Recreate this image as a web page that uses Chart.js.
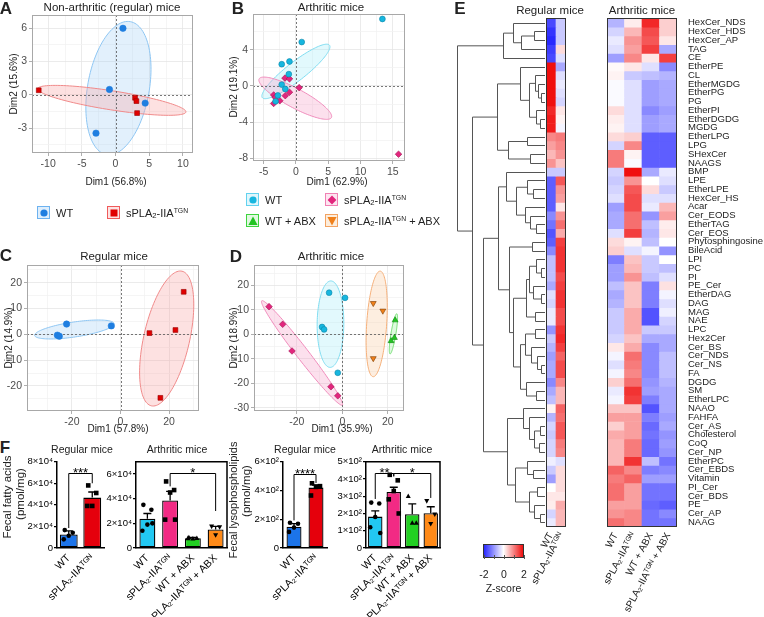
<!DOCTYPE html>
<html><head><meta charset="utf-8">
<script src="https://cdn.jsdelivr.net/npm/chart.js@4/dist/chart.umd.min.js"></script>
<style>
html,body{margin:0;padding:0;background:#fff;}
body{width:764px;height:617px;position:relative;overflow:hidden;font-family:"Liberation Sans","DejaVu Sans",Arial,sans-serif;color:#222;}
canvas{position:absolute;}
.t{position:absolute;white-space:nowrap;line-height:1;}
sup{font-size:0.62em;vertical-align:0.5em;line-height:0;}
sub{font-size:0.7em;vertical-align:-0.25em;line-height:0;}
.lb{position:absolute;width:11px;height:11px;border:1.5px solid;}
.lb svg{position:absolute;left:-1px;top:-1px;}
</style></head><body>
<script>
// ---------------- DATA ----------------
// Panel A (non-arthritic regular mice PCA)
const aWtX=[1.1,-0.9,4.4,-2.9], aWtY=[6.0,0.48,-0.75,-3.46];
const aTgX=[-11.4,2.9,3.1,3.2], aTgY=[0.41,-0.27,-0.57,-1.65];
const aXRange=[-12.4,11.5], aYRange=[-5.25,7.2];
const aXTicks=[-10,-5,0,5,10], aYTicks=[-3,0,3,6];
const aEllWt={c:[0.43,0.6],a:[1.77,6.0],b:[4.5,-0.5]};
const aEllTg={c:[-0.55,-0.5],a:[11.0,-1.05],b:[0.22,0.85]};
// Panel B (arthritic mice PCA)
const bWtX=[13.4,0.9,-2.2,-1.0,-1.1,-2.2,-1.65,-2.8,-3.15];
const bWtY=[7.4,4.85,2.4,2.7,1.3,0.15,-0.34,-1.05,-1.7];
const bTgX=[15.9,-1.7,-1.0,0.5,-1.0,-1.65,-3.45,-3.2,-2.5,-3.45];
const bTgY=[-7.55,0.86,0.78,-0.19,-0.7,-1.08,-1.0,-1.27,-1.64,-1.94];
const bXRange=[-6.65,16.9], bYRange=[-8.3,7.95];
const bXTicks=[-5,0,5,10,15], bYTicks=[-8,-4,0,4];
const bEllWt={c:[0,1.6],a:[5.2,2.9],b:[0.88,-0.82]};
const bEllTg={c:[-0.1,-1.36],a:[5.6,-2.14],b:[-0.69,-0.94]};
// Panel C (regular mice PCA)
const cWtX=[-22.2,-3.8,-26.0,-25.2], cWtY=[4.0,3.3,-0.3,-0.7];
const cTgX=[26.0,22.6,11.9,16.4], cTgY=[16.5,1.7,0.5,-24.6];
const cXRange=[-38.5,32.3], cYRange=[-29.7,26.9];
const cXTicks=[-20,0,20], cYTicks=[-20,-10,0,10,20];
const cEllWt={c:[-19.0,1.9],a:[16.35,2.3],b:[0.45,-2.87]};
const cEllTg={c:[19.0,-1.6],a:[6.3,26.1],b:[9.2,-1.98]};
// Panel D (arthritic mice PCA)
const dWtX=[-5.8,1.2,-8.9,-8.0,-2.0], dWtY=[17.0,14.9,3.0,2.0,-15.7];
const dTgX=[-32.2,-26.2,-22.1,-5.0,-2.0], dTgY=[11.3,4.1,-6.8,-21.4,-25.1];
const dWtAbxX=[23.2,22.9,21.4], dWtAbxY=[5.8,-1.4,-2.7];
const dTgAbxX=[13.6,17.8,13.6], dTgAbxY=[12.7,9.6,-9.8];
const dXRange=[-38.8,27.1], dYRange=[-31.3,28.3];
const dXTicks=[-20,0,20], dYTicks=[-30,-20,-10,0,10,20];
const dEllWt={c:[-5.2,4.15],a:[0.15,17.65],b:[5.86,0]};
const dEllTg={c:[-17.7,-7.6],a:[17.7,-21.3],b:[2.09,1.5]};
const dEllTgAbx={c:[15.1,4.25],a:[1.5,21.55],b:[4.4,0]};
const dEllWtAbx={c:[22.45,0.2],a:[1.45,8.2],b:[1.1,0]};
// Panel F
const fRegLabels=['WT','sPLA₂-IIAᵀᴳᴺ'];
const fArtLabels=['WT','sPLA₂-IIAᵀᴳᴺ','WT + ABX','sPLA₂-IIAᵀᴳᴺ + ABX'];
const f1Means=[12500,46700], f1Sem=[3400,5200];
const f1Pts=[[16600,14100,11300,8000],[58000,51000,39000,39000]];
const f1YTicks=[0,20000,40000,60000,80000], f1YLabels=['0','2×10⁴','4×10⁴','6×10⁴','8×10⁴'];
const f1Brackets=[{a:0,b:1,y:69400,ya:18500,yb:60000,t:'***'}];
const f2Means=[23800,38600,8000,15000], f2Sem=[4200,7400,500,2500];
const f2Pts=[[35000,31000,19000,14000,20000],[54000,47000,45000,23000,23000],[8500,8000,7500,7800],[17500,17000,10500]];
const f2YTicks=[0,20000,40000,60000], f2YLabels=['0','2×10⁴','4×10⁴','6×10⁴'], f2Max=70000;
const f2Brackets=[{a:1,b:3,y:60500,ya:50000,yb:30000,t:'*'}];
const f3Means=[148,420], f3Sem=[21,18];
const f3Pts=[[176,169,142,112],[450,430,425,365]];
const f3YTicks=[0,200,400,600], f3YLabels=['0','2×10²','4×10²','6×10²'];
const f3Brackets=[{a:0,b:1,y:516,ya:192,yb:452,t:'****'}];
const f4Means=[182,325,196,202], f4Sem=[33,27,60,37];
const f4Pts=[[263,258,180,120,87],[424,392,330,282,200],[300,145,145],[273,195,140]];
const f4YTicks=[0,100,200,300,400,500], f4YLabels=['0','1×10²','2×10²','3×10²','4×10²','5×10²'];
const f4Brackets=[{a:0,b:1,y:433,ya:284,yb:415,t:'**'},{a:1,b:3,y:433,ya:415,yb:290,t:'*'}];
// Panel E heatmap (z-scores)
const rowNames=['HexCer_NDS','HexCer_HDS','HexCer_AP','TAG','CE','EtherPE','CL','EtherMGDG','EtherPG','PG','EtherPI','EtherDGDG','MGDG','EtherLPG','LPG','SHexCer','NAAGS','BMP','LPE','EtherLPE','HexCer_HS','Acar','Cer_EODS','EtherTAG','Cer_EOS','Phytosphingosine','BileAcid','LPI','PC','PI','PE_Cer','EtherDAG','DAG','MAG','NAE','LPC','Hex2Cer','Cer_BS','Cer_NDS','Cer_NS','FA','DGDG','SM','EtherLPC','NAAO','FAHFA','Cer_AS','Cholesterol','CoQ','Cer_NP','EtherPC','Cer_EBDS','Vitamin','PI_Cer','Cer_BDS','PE','Cer_AP','NAAG'];
const regWT=[-1.7,-1.9,-2.0,-1.8,-1.7,2.0,2.0,2.0,2.0,2.0,1.8,1.9,1.9,1.0,0.8,0.6,0.9,-0.5,-1.5,-1.5,-1.5,-1.5,-1.1,-1.3,-1.6,-1.5,-1.1,-0.6,-0.6,-0.6,-0.8,-0.3,-0.4,-0.2,-0.2,-1.0,-0.5,-0.7,-0.9,-0.8,-0.8,-1.1,-0.8,-0.6,0.1,-0.7,-0.4,-0.5,-0.4,-0.4,-0.15,-0.5,-0.9,0.0,0.2,0.15,-0.4,-0.2];
const regTG=[-0.5,-0.5,-0.5,0.3,-0.3,-0.8,-0.3,-0.2,-0.3,-0.4,0.2,0.1,-0.1,1.1,1.0,0.9,0.5,-0.5,1.4,0.9,0.8,0.2,0.9,1.2,0.7,1.6,1.7,1.7,1.7,1.5,1.6,1.7,1.7,1.5,1.5,1.7,1.8,1.6,1.3,1.5,1.5,1.0,0.6,0.6,1.3,1.2,1.4,1.4,1.1,1.0,-0.3,0.3,0.3,0.3,0.2,0.7,0.6,0.6];
const artWT=[-0.7,-0.4,-0.2,-0.3,-0.9,0.05,0.1,-0.05,-0.05,-0.05,0.3,0.15,0.1,0.3,-0.4,1.1,1.1,-0.4,-0.5,-0.4,-0.3,-0.9,-0.8,-0.8,-0.3,0.3,0.4,-1.2,-0.9,-0.9,-0.6,-0.8,-0.7,-0.5,-0.5,-0.5,-0.4,0.2,-0.1,-0.3,-0.1,0.4,-0.2,-0.1,0.5,0.8,0.4,0.7,0.6,0.6,0.6,1.3,1.1,1.2,1.2,0.8,0.9,1.2];
const artTG=[0.15,0.6,0.9,0.8,1.0,0.2,-0.5,-0.3,-0.3,-0.3,-0.3,-0.3,-0.3,0.4,1.0,0.1,-0.05,2.0,0.9,1.4,1.5,1.5,1.2,1.2,1.6,0.1,-0.3,0.5,0.6,0.9,0.5,0.5,0.5,0.7,0.7,0.7,0.5,0.7,1.2,1.1,1.0,1.2,1.7,1.6,0.5,0.8,0.8,0.8,1.1,1.1,1.7,1.0,1.3,0.8,0.8,0.8,1.0,1.0];
const artWtAbx=[1.8,1.5,1.4,1.6,0.2,-0.3,-0.6,-0.9,-0.9,-0.9,-1.1,-0.9,-0.9,-1.5,-1.5,-1.5,-1.5,-0.8,0.0,0.3,-0.3,-0.2,-1.0,-0.6,-0.7,-0.6,-0.1,-0.5,-0.5,-0.6,-1.2,-1.2,-1.2,-1.6,-1.6,-0.5,-0.8,-1.1,-1.1,-1.1,-1.1,-1.0,-0.9,-1.2,-1.6,-1.2,-1.4,-1.3,-1.4,-1.4,-0.6,-1.2,-0.9,-1.3,-1.3,-1.4,-1.3,-1.3];
const artTgAbx=[0.4,0.4,0.2,-0.8,1.6,-1.1,-0.7,-0.8,-0.8,-0.8,-0.9,-0.8,-0.8,-1.5,-1.5,-1.5,-1.5,-0.2,-0.3,-0.5,-0.3,0.6,0.8,0.15,0.2,0.0,-1.0,0.0,-0.6,-0.3,0.25,-0.1,-0.3,-0.15,-0.4,-0.5,-0.8,-0.8,-0.6,-0.6,-0.6,-0.7,-0.8,-0.8,-0.8,-0.9,-0.8,-1.0,-0.9,-1.0,-1.3,-1.1,-0.9,-1.3,-1.3,-1.5,-1.1,-1.3];
const heatRegLabels=['WT','sPLA₂-IIAᵀᴳᴺ'];
const heatArtLabels=['WT','sPLA₂-IIAᵀᴳᴺ','WT + ABX','sPLA₂-IIAᵀᴳᴺ + ABX'];
// row dendrogram: [height, left, right], leaves = row numbers (1-based)
const dendroTree=[88,
  [42,[32,1,[24,[11,2,3],4]],5],
  [73,
    [48,[25,6,[16,[10,7,[7,8,[4,9,10]]],[9,11,[5,12,13]]]],[37,[18,14,15],[15,16,17]]],
    [62,
      [47,[39,18,[29,[18,19,[12,20,21]],[20,22,[15,23,[9,24,25]]]]],
          [36,[13,26,27],[32,[19,[16,[9,28,[4,29,30]],[12,31,[4,32,33]]],[10,34,35]],
                             [25,[20,[10,36,37],[14,38,[8,39,[4,40,41]]]],[19,42,[9,43,44]]]]]],
      [38,[22,45,[16,46,[11,[5,47,48],[6,49,50]]]],
          [30,[18,51,[12,52,53]],[16,[8,54,55],[11,56,[5,57,58]]]]]]]];

// ---------------- helpers ----------------
const FONT='"Liberation Sans","DejaVu Sans",Arial,sans-serif';
Chart.defaults.font.family=FONT;
Chart.defaults.color='#333';
Chart.defaults.animation=false;

function mkCanvas(box){const c=document.createElement('canvas');c.width=box.w;c.height=box.h;
  c.style.left=box.x+'px';c.style.top=box.y+'px';c.style.width=box.w+'px';c.style.height=box.h+'px';
  document.body.appendChild(c);return c;}
function txt(html,x,y,o={}){const d=document.createElement('div');d.className='t';d.innerHTML=html;
  d.style.left=x+'px';d.style.top=y+'px';d.style.fontSize=(o.size||11)+'px';
  if(o.bold)d.style.fontWeight='bold'; if(o.color)d.style.color=o.color;
  d.style.transform='translate(-50%,-50%)'+(o.rot?' rotate('+o.rot+'deg)':'');
  if(o.left)d.style.transform='translate(0,-50%)';
  d.style.zIndex=5;document.body.appendChild(d);}
const isMaj=(arr,v)=>arr.some(m=>Math.abs(m-v)<1e-9);
function withMinor(maj,lo,hi){const d=(maj[1]-maj[0])/2;const out=[];for(let v=Math.ceil(lo/d-1e-9)*d;v<=hi+1e-9;v+=d)out.push(Math.round(v*1000)/1000);return out;}

function pcaAxis(range,maj,isX,size){return{
  type:'linear',min:range[0],max:range[1],
  afterBuildTicks:s=>{s.ticks=withMinor(maj,range[0],range[1]).map(v=>({value:v}));},
  afterFit:s=>{if(isX)s.height=size;else s.width=size;},
  ticks:{autoSkip:false,maxRotation:0,minRotation:0,padding:2,color:'#4d4d4d',font:{size:10.5},
    callback:v=>isMaj(maj,v)?String(v):''},
  grid:{color:c=>isMaj(maj,c.tick.value)?'#e6e6e6':'#f3f3f3',lineWidth:0.8,tickLength:3,
    tickColor:c=>isMaj(maj,c.tick.value)?'#9a9a9a':'rgba(0,0,0,0)'},
  border:{display:false}};}

function pcaPlugin(ells){return{id:'pca',
  beforeDatasetsDraw(chart){const{ctx,chartArea:a,scales:{x,y}}=chart;ctx.save();
    ctx.beginPath();ctx.rect(a.left,a.top,a.right-a.left,a.bottom-a.top);ctx.clip();
    for(const e of ells){ctx.beginPath();
      for(let k=0;k<=120;k++){const t=k/120*Math.PI*2;
        const vx=e.p.c[0]+e.p.a[0]*Math.cos(t)+e.p.b[0]*Math.sin(t);
        const vy=e.p.c[1]+e.p.a[1]*Math.cos(t)+e.p.b[1]*Math.sin(t);
        const px=x.getPixelForValue(vx),py=y.getPixelForValue(vy);
        if(k)ctx.lineTo(px,py);else ctx.moveTo(px,py);}
      ctx.closePath();ctx.fillStyle=e.fill;ctx.fill();ctx.strokeStyle=e.stroke;ctx.lineWidth=1;ctx.stroke();}
    ctx.setLineDash([2,2]);ctx.strokeStyle='#555';ctx.lineWidth=0.8;
    const x0=Math.round(x.getPixelForValue(0))+0.5,y0=Math.round(y.getPixelForValue(0))+0.5;
    ctx.beginPath();ctx.moveTo(x0,a.top);ctx.lineTo(x0,a.bottom);ctx.moveTo(a.left,y0);ctx.lineTo(a.right,y0);ctx.stroke();
    ctx.restore();},
  afterDraw(chart){const{ctx,chartArea:a}=chart;ctx.save();ctx.strokeStyle='#a8a8a8';ctx.lineWidth=1;
    ctx.strokeRect(Math.round(a.left)+0.5,Math.round(a.top)+0.5,Math.round(a.right-a.left)-1,Math.round(a.bottom-a.top)-1);ctx.restore();}};}

function pts(xs,ys){return xs.map((x,i)=>({x,y:ys[i]}));}
function pcaChart(box,area,xr,yr,xt,yt,datasets,ells){
  new Chart(mkCanvas(box),{type:'scatter',data:{datasets},
    options:{responsive:false,animation:false,devicePixelRatio:1,
      layout:{autoPadding:false,padding:{left:0,bottom:0,top:area.t-box.y,right:box.x+box.w-area.r}},
      plugins:{legend:{display:false},tooltip:{enabled:false}},
      scales:{x:pcaAxis(xr,xt,true,box.y+box.h-area.b),y:pcaAxis(yr,yt,false,area.l-box.x)}},
    plugins:[pcaPlugin(ells)]});}

const C={blue:'#1f7ee0',red:'#e00000',cyan:'#17b6df',pink:'#e2267d',green:'#22c422',orange:'#f0801a'};
function ds(data,color,style,r,extra){return Object.assign({data,backgroundColor:color,borderColor:color,pointStyle:style,pointRadius:r,borderWidth:0.6},extra||{});}

// ---------------- Panels A-D ----------------
pcaChart({x:0,y:0,w:200,h:178},{l:32,t:15,r:193,b:153},aXRange,aYRange,aXTicks,aYTicks,
  [ds(pts(aWtX,aWtY),C.blue,'circle',3.2),ds(pts(aTgX,aTgY),C.red,'rect',3.4,{borderColor:'#900'})],
  [{p:aEllWt,fill:'rgba(150,200,245,0.28)',stroke:'#8ec6f3'},{p:aEllTg,fill:'rgba(250,165,165,0.33)',stroke:'#f08a8a'}]);
pcaChart({x:228,y:0,w:182,h:178},{l:253,t:14,r:405,b:161},bXRange,bYRange,bXTicks,bYTicks,
  [ds(pts(bWtX,bWtY),C.cyan,'circle',2.9,{borderColor:'#0a86a8'}),ds(pts(bTgX,bTgY),C.pink,'rectRot',3.3,{borderColor:'#a01050'})],
  [{p:bEllWt,fill:'rgba(150,232,248,0.28)',stroke:'#7fdcf0'},{p:bEllTg,fill:'rgba(245,160,200,0.33)',stroke:'#f08cbc'}]);
pcaChart({x:0,y:250,w:205,h:180},{l:27,t:265,r:199,b:411},cXRange,cYRange,cXTicks,cYTicks,
  [ds(pts(cWtX,cWtY),C.blue,'circle',3.2),ds(pts(cTgX,cTgY),C.red,'rect',3.4,{borderColor:'#900'})],
  [{p:cEllWt,fill:'rgba(150,200,245,0.28)',stroke:'#8ec6f3'},{p:cEllTg,fill:'rgba(250,165,165,0.33)',stroke:'#f08a8a'}]);
pcaChart({x:228,y:250,w:182,h:180},{l:254,t:265,r:404,b:411},dXRange,dYRange,dXTicks,dYTicks,
  [ds(pts(dWtX,dWtY),C.cyan,'circle',2.9,{borderColor:'#0a86a8'}),ds(pts(dTgX,dTgY),C.pink,'rectRot',3.3,{borderColor:'#a01050'}),
   ds(pts(dWtAbxX,dWtAbxY),C.green,'triangle',3.4,{borderColor:'#118811'}),ds(pts(dTgAbxX,dTgAbxY),C.orange,'triangle',3.4,{rotation:180,borderColor:'#7a3a00'})],
  [{p:dEllWt,fill:'rgba(150,232,248,0.28)',stroke:'#7fdcf0'},{p:dEllTg,fill:'rgba(245,160,200,0.33)',stroke:'#f08cbc'},
   {p:dEllTgAbx,fill:'rgba(250,205,165,0.35)',stroke:'#f5b07a'},{p:dEllWtAbx,fill:'rgba(160,240,160,0.35)',stroke:'#70dd70'}]);

// ---------------- Panel F ----------------
const jit=[-4,4,0,-5,5,2];
function drawShape(ctx,s,x,y,r){ctx.beginPath();
  if(s==='circle')ctx.arc(x,y,r,0,Math.PI*2);
  else if(s==='square')ctx.rect(x-r,y-r,2*r,2*r);
  else if(s==='tri'){ctx.moveTo(x,y-r*1.2);ctx.lineTo(x+r*1.1,y+r*0.8);ctx.lineTo(x-r*1.1,y+r*0.8);ctx.closePath();}
  else {ctx.moveTo(x,y+r*1.2);ctx.lineTo(x+r*1.1,y-r*0.8);ctx.lineTo(x-r*1.1,y-r*0.8);ctx.closePath();}
  ctx.fill();}
function barPlugin(means,sems,points,shapes,brackets,frame){return{id:'barx',
  afterDatasetsDraw(chart){const{ctx,chartArea:a,scales:{x,y}}=chart;ctx.save();
    ctx.strokeStyle='#000';ctx.fillStyle='#000';ctx.lineWidth=1.3;
    means.forEach((m,i)=>{const cx=x.getPixelForValue(i);const y0=y.getPixelForValue(m),y1=y.getPixelForValue(m+sems[i]);
      ctx.beginPath();ctx.moveTo(cx,y0);ctx.lineTo(cx,y1);ctx.moveTo(cx-4,y1);ctx.lineTo(cx+4,y1);ctx.stroke();
      points[i].forEach((v,j)=>drawShape(ctx,shapes[i],cx+jit[j%jit.length],y.getPixelForValue(v),2.3));});
    ctx.lineWidth=1;
    for(const b of brackets){const xa=x.getPixelForValue(b.a),xb=x.getPixelForValue(b.b),yy=Math.round(y.getPixelForValue(b.y))+0.5;
      ctx.beginPath();ctx.moveTo(xa,y.getPixelForValue(b.ya));ctx.lineTo(xa,yy);ctx.lineTo(xb,yy);ctx.lineTo(xb,y.getPixelForValue(b.yb));ctx.stroke();
      ctx.font='13px '+FONT;ctx.textAlign='center';ctx.textBaseline='alphabetic';ctx.fillText(b.t,(xa+xb)/2,yy+3);}
    if(frame){ctx.lineWidth=1.5;ctx.beginPath();ctx.moveTo(a.left,a.top);ctx.lineTo(a.right,a.top);ctx.lineTo(a.right,a.bottom);ctx.stroke();}
    ctx.restore();}};}
function barChart(box,area,labels,means,sems,points,colors,shapes,yt,yl,ymax,brackets,frame,bp){
  new Chart(mkCanvas(box),{type:'bar',
    data:{labels,datasets:[{data:means,backgroundColor:colors,borderColor:'#000',borderWidth:1.3,borderSkipped:false,barPercentage:bp,categoryPercentage:1}]},
    options:{responsive:false,animation:false,devicePixelRatio:1,
      layout:{autoPadding:false,padding:{left:0,bottom:0,top:area.t-box.y,right:box.x+box.w-area.r}},
      plugins:{legend:{display:false},tooltip:{enabled:false}},
      scales:{
        x:{grid:{display:false,drawTicks:false},border:{color:'#000',width:1.5},
           ticks:{autoSkip:false,maxRotation:45,minRotation:45,padding:4,color:'#000',font:{size:10.5}},
           afterFit:s=>{s.height=box.y+box.h-area.b;}},
        y:{min:0,max:ymax,afterBuildTicks:s=>{s.ticks=yt.map(v=>({value:v}));},
           ticks:{callback:(v,i)=>yl[i],color:'#000',font:{size:9.5},padding:1,autoSkip:false},
           grid:{drawOnChartArea:false,drawTicks:true,tickLength:3,color:'#000',lineWidth:1.3},
           border:{color:'#000',width:1.5},afterFit:s=>{s.width=area.l-box.x;}}}},
    plugins:[barPlugin(means,sems,points,shapes,brackets,frame)]});}
const FC={blue:'#1c74ea',red:'#e5000c',cyan:'#22c8f2',pink:'#f22a84',green:'#22d022',orange:'#ff8a18'};
barChart({x:24,y:455,w:84,h:162},{l:57,t:461,r:104,b:548},fRegLabels,f1Means,f1Sem,f1Pts,[FC.blue,FC.red],['circle','square'],f1YTicks,f1YLabels,80000,f1Brackets,false,0.76);
barChart({x:104,y:455,w:128,h:162},{l:136,t:460,r:227,b:548},fArtLabels,f2Means,f2Sem,f2Pts,[FC.cyan,FC.pink,FC.green,FC.orange],['circle','square','tri','down'],f2YTicks,f2YLabels,f2Max,f2Brackets,true,0.7);
barChart({x:250,y:455,w:80,h:162},{l:283,t:460,r:327,b:548},fRegLabels,f3Means,f3Sem,f3Pts,[FC.blue,FC.red],['circle','square'],f3YTicks,f3YLabels,600,f3Brackets,false,0.68);
barChart({x:330,y:455,w:115,h:162},{l:366,t:460,r:440,b:548},fArtLabels,f4Means,f4Sem,f4Pts,[FC.cyan,FC.pink,FC.green,FC.orange],['circle','square','tri','down'],f4YTicks,f4YLabels,500,f4Brackets,true,0.78);

// ---------------- Panel E heatmap ----------------
function zColor(z){const t=Math.max(-1,Math.min(1,z/2));let r,g,b;
  if(t<0){const u=-t;r=255-215*u;g=255-215*u;b=255;}else{const u=t;r=255-15*u;g=255-240*u;b=255-240*u;}
  return 'rgb('+Math.round(r)+','+Math.round(g)+','+Math.round(b)+')';}
function framePlugin(){return{id:'hframe',afterDatasetsDraw(chart){const{ctx,chartArea:a}=chart;ctx.save();ctx.strokeStyle='#333';ctx.lineWidth=1;
  ctx.strokeRect(Math.round(a.left)+0.5,Math.round(a.top)+0.5,Math.round(a.right-a.left)-1,Math.round(a.bottom-a.top));ctx.restore();}};}
function dendroPlugin(tree){return{id:'dendro',afterDraw(chart){const{ctx,chartArea:a,scales:{y}}=chart;const leafX=Math.round(a.left)-1;
  ctx.save();ctx.strokeStyle='#555';ctx.lineWidth=1;
  function walk(n){if(typeof n==='number')return{x:leafX,y:Math.round(y.getPixelForValue(n-0.5))+0.5};
    const L=walk(n[1]),R=walk(n[2]);const xh=Math.round(leafX-n[0])+0.5;
    ctx.beginPath();ctx.moveTo(L.x,L.y);ctx.lineTo(xh,L.y);ctx.lineTo(xh,R.y);ctx.lineTo(R.x,R.y);ctx.stroke();
    return{x:xh,y:(L.y+R.y)/2};}
  walk(tree);ctx.restore();}};}
function heatChart(box,area,labels,cols,showNames,extraPlugins){
  const datasets=rowNames.map((n,i)=>({label:n,data:cols.map(()=>1),backgroundColor:cols.map(c=>zColor(c[i])),borderWidth:0,barPercentage:1,categoryPercentage:1}));
  new Chart(mkCanvas(box),{type:'bar',data:{labels,datasets},
    options:{responsive:false,animation:false,devicePixelRatio:1,
      layout:{autoPadding:false,padding:{left:area.l-box.x,bottom:0,top:area.t-box.y,right:showNames?0:box.x+box.w-area.r}},
      plugins:{legend:{display:false},tooltip:{enabled:false}},
      scales:{
        x:{stacked:true,grid:{display:false,drawTicks:false},border:{display:false},
           ticks:{autoSkip:false,maxRotation:62,minRotation:62,padding:4,color:'#222',font:{size:10}},
           afterFit:s=>{s.height=box.y+box.h-area.b;}},
        y:{stacked:true,reverse:true,min:0,max:rowNames.length,display:showNames,position:'right',
           afterBuildTicks:s=>{s.ticks=rowNames.map((_,i)=>({value:i+0.5}));},
           ticks:{autoSkip:false,callback:(v,i)=>rowNames[i],padding:11,color:'#222',font:{size:9.5}},
           grid:{display:false,drawTicks:false},border:{display:false},
           afterFit:s=>{s.width=box.x+box.w-area.r;}}}},
    plugins:[framePlugin()].concat(extraPlugins||[])});}
heatChart({x:448,y:0,w:150,h:617},{l:546,t:18.3,r:582,b:526.7},heatRegLabels,[regWT,regTG],false,[dendroPlugin(dendroTree)]);
heatChart({x:600,y:0,w:164,h:617},{l:607,t:18.3,r:677,b:526.7},heatArtLabels,[artWT,artTG,artWtAbx,artTgAbx],true);

// ---------------- Text, legends ----------------
const TG='sPLA<sub>2</sub>-IIA<sup>TGN</sup>';
txt('A',6,8,{size:17,bold:true});txt('B',238,8,{size:17,bold:true});
txt('C',6,255,{size:17,bold:true});txt('D',236,256,{size:17,bold:true});
txt('E',460,8,{size:17,bold:true});txt('F',5,447,{size:17,bold:true});
txt('Non-arthritic (regular) mice',112,7.5,{size:11.5});
txt('Arthritic mice',331,7.5,{size:11.5});
txt('Regular mice',114,257,{size:11.5});
txt('Arthritic mice',331,257,{size:11.5});
txt('Dim1 (56.8%)',116,181.5,{size:10});txt('Dim1 (62.9%)',337,181.5,{size:10});
txt('Dim1 (57.8%)',118,429,{size:10});txt('Dim1 (35.9%)',342,429,{size:10});
txt('Dim2 (15.6%)',13.5,84,{size:10,rot:-90});txt('Dim2 (19.1%)',234,87,{size:10,rot:-90});
txt('Dim2 (14.9%)',8.5,338,{size:10,rot:-90});txt('Dim2 (18.9%)',233.5,338,{size:10,rot:-90});
function shapeSvg(s,col){let inner='';
  if(s==='circle')inner='<circle cx="7" cy="7" r="3.6" fill="'+col+'"/>';
  else if(s==='square')inner='<rect x="3.5" y="3.5" width="7" height="7" fill="'+col+'"/>';
  else if(s==='diamond')inner='<polygon points="7,2.6 11.4,7 7,11.4 2.6,7" fill="'+col+'"/>';
  else if(s==='tri')inner='<polygon points="7,2.6 11.6,11 2.4,11" fill="'+col+'"/>';
  else inner='<polygon points="2.4,3 11.6,3 7,11.4" fill="'+col+'"/>';
  return '<svg width="14" height="14" viewBox="0 0 14 14">'+inner+'</svg>';}
function legendBox(x,y,border,fill,shape,col,label){const d=document.createElement('div');d.className='lb';
  d.style.left=x+'px';d.style.top=y+'px';d.style.borderColor=border;d.style.background=fill;d.innerHTML=shapeSvg(shape,col);
  document.body.appendChild(d);txt(label,x+19,y+7,{size:11,left:true});}
legendBox(37,206,'#6cb2f0','#deeefc','circle',C.blue,'WT');
legendBox(107,206,'#f05a5a','#fde3e3','square',C.red,TG);
legendBox(246,193,'#62d2ef','#dff6fc','circle',C.cyan,'WT');
legendBox(325,193,'#f080b4','#fde5f0','diamond',C.pink,TG);
legendBox(246,214,'#3ed43e','#e2f8e2','tri',C.green,'WT + ABX');
legendBox(325,214,'#f2a362','#fdeddc','down',C.orange,TG+' + ABX');
// F titles
txt('Regular mice',82,449,{size:10.5});txt('Arthritic mice',177,449,{size:10.5});
txt('Regular mice',305,449,{size:10.5});txt('Arthritic mice',402,449,{size:10.5});
txt('Fecal fatty acids',7.5,497,{size:11.5,rot:-90});txt('(pmol/mg)',20.5,494,{size:11.5,rot:-90});
txt('Fecal lysophospholipids',233,500,{size:11,rot:-90});txt('(pmol/mg)',247,491,{size:11.5,rot:-90});
// E titles & color key
txt('Regular mice',550,11,{size:11.5});txt('Arthritic mice',642,11,{size:11.5});
const cb=document.createElement('div');cb.style.cssText='position:absolute;left:483px;top:544px;width:41px;height:14px;border:1px solid #333;box-sizing:border-box;background:linear-gradient(to right,'+zColor(-2)+','+zColor(0)+','+zColor(2)+');';
document.body.appendChild(cb);
[-2,-1,0,1,2].forEach(v=>{const t=document.createElement('div');t.style.cssText='position:absolute;top:555px;width:1px;height:4px;background:#555;left:'+(483.5+(v+2)/4*40)+'px';document.body.appendChild(t);});
txt('-2',484,573.5,{size:10.5});txt('0',504,573.5,{size:10.5});txt('2',524,573.5,{size:10.5});
txt('Z-score',503.5,587.5,{size:10.5});
</script>
</body></html>
